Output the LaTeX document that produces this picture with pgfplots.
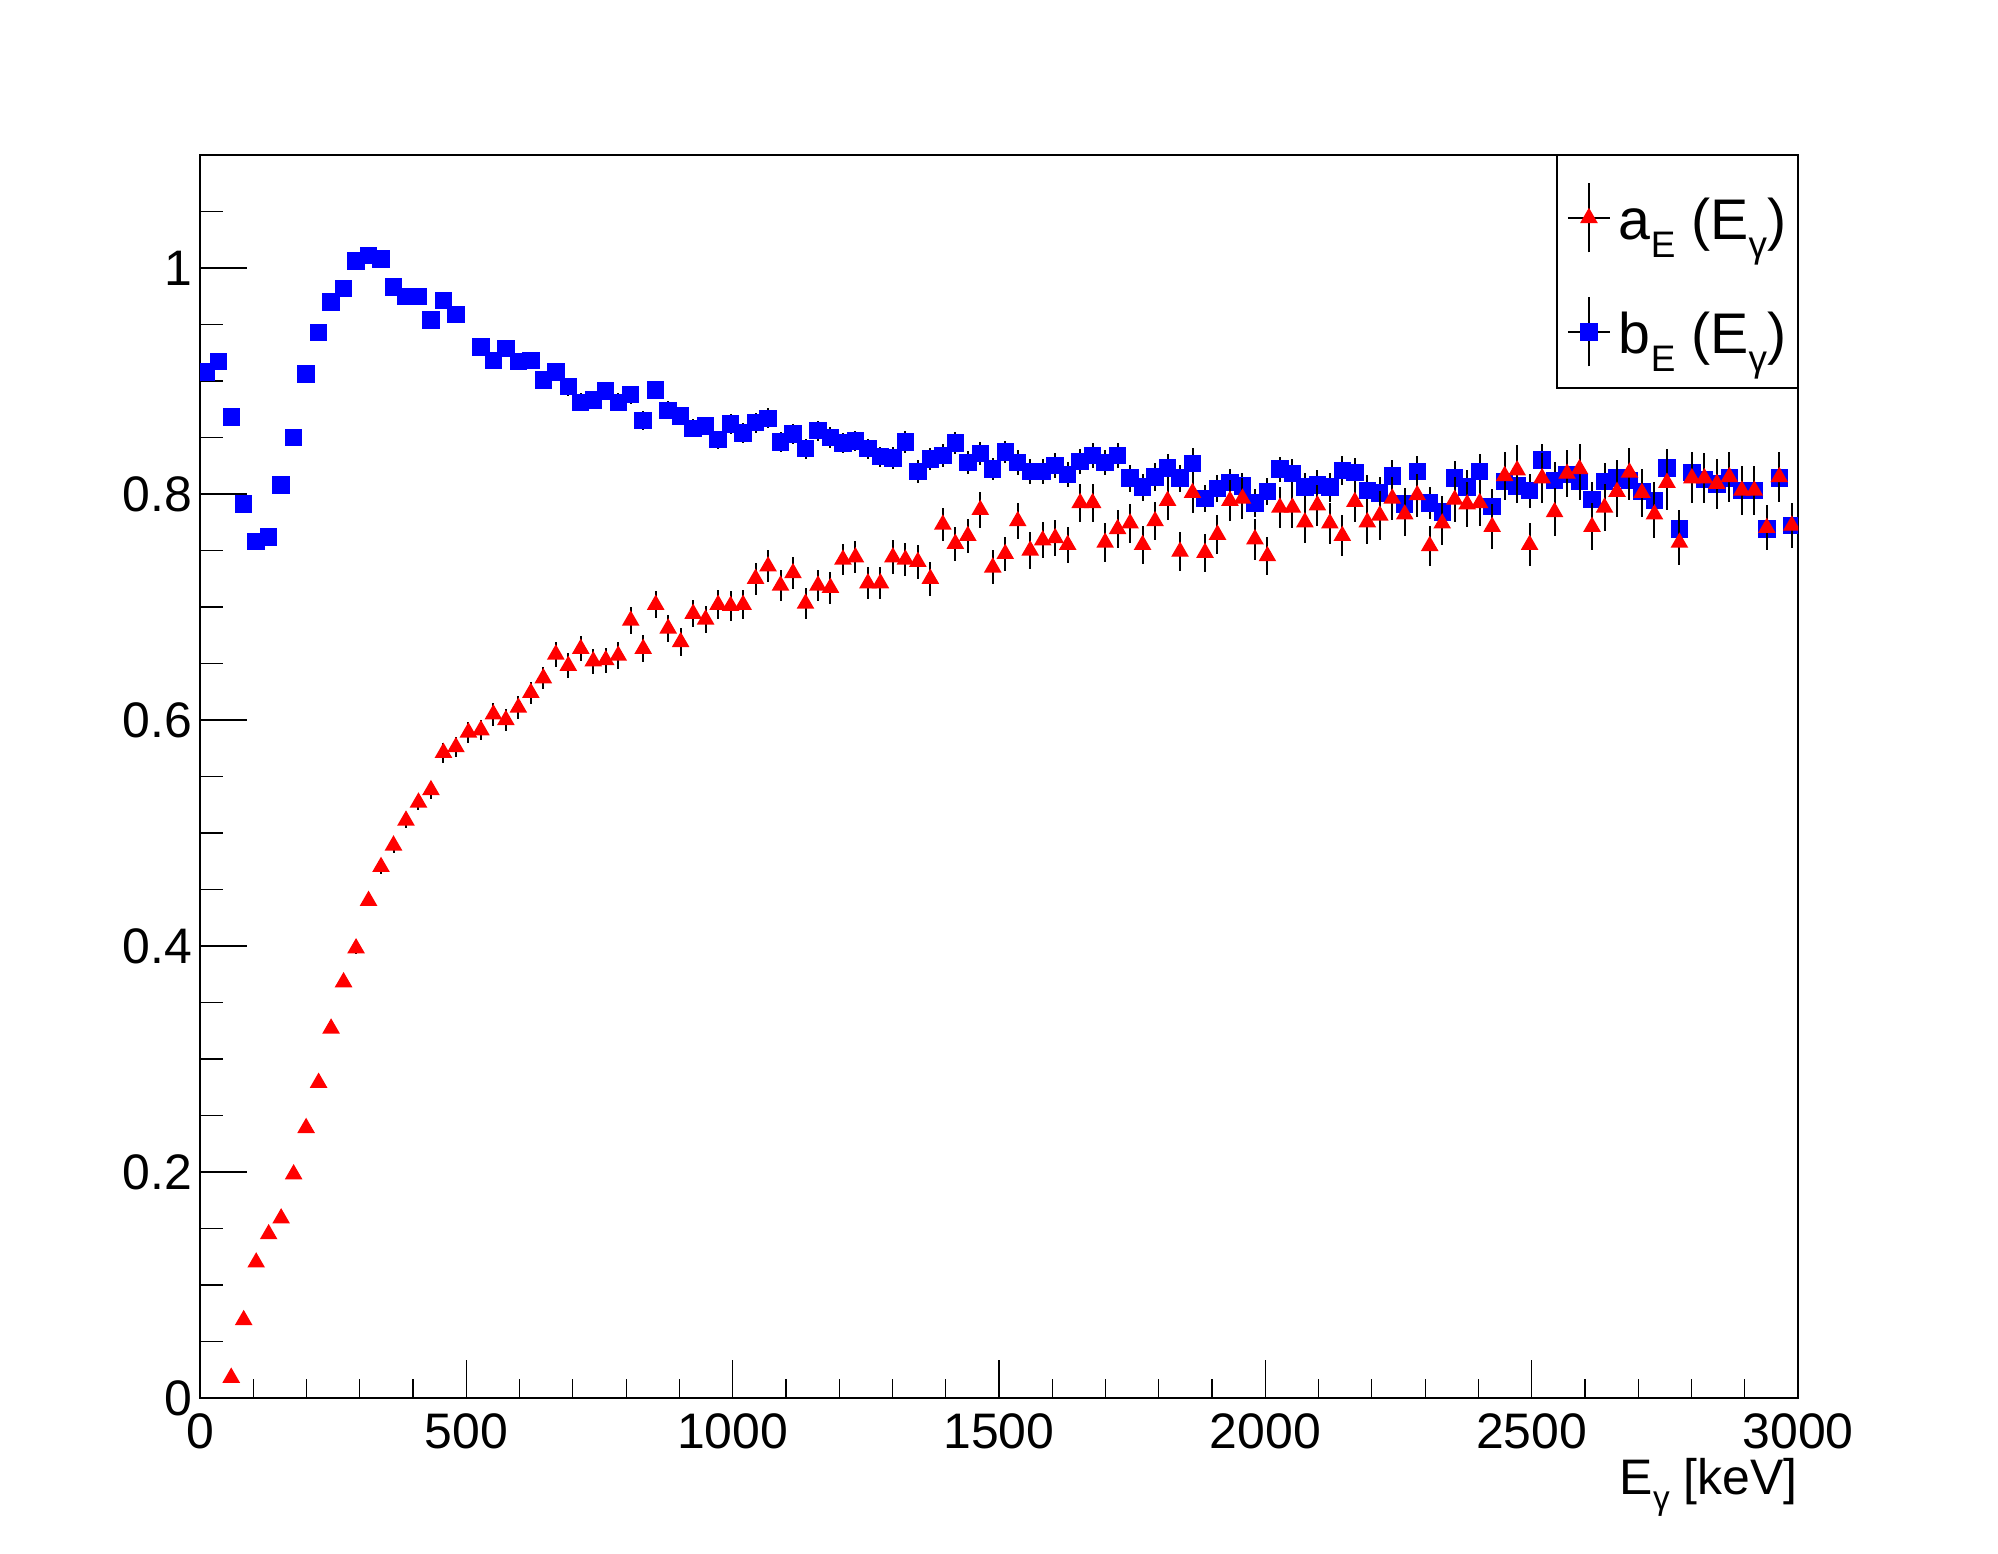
\documentclass[border=0pt]{standalone}
\usepackage{fontspec}
\setmainfont{Liberation Sans}
\usepackage{pgfplots}
\usepackage{pgfplotstable}
\pgfplotsset{compat=1.18}
\newcommand{\lsub}[1]{\raisebox{-0.3em}{\fontsize{10.5}{10.5}\selectfont #1}}
\newcommand{\xsub}[1]{\raisebox{-0.3em}{\fontsize{9.5}{9.5}\selectfont #1}}

\pgfplotstableread{
E v e
11.72 0.908 0.003
35.16 0.917 0.003
58.59 0.868 0.003
82.03 0.791 0.003
105.47 0.758 0.003
128.91 0.762 0.003
152.34 0.808 0.003
175.78 0.850 0.003
199.22 0.906 0.004
222.66 0.943 0.004
246.09 0.970 0.004
269.53 0.982 0.004
292.97 1.006 0.004
316.41 1.011 0.004
339.84 1.008 0.004
363.28 0.983 0.004
386.72 0.975 0.005
410.16 0.975 0.005
433.59 0.954 0.005
457.03 0.971 0.005
480.47 0.959 0.005
527.34 0.930 0.006
550.78 0.918 0.006
574.22 0.929 0.006
597.66 0.917 0.006
621.09 0.918 0.006
644.53 0.901 0.007
667.97 0.908 0.007
691.41 0.895 0.008
714.84 0.881 0.008
738.28 0.883 0.008
761.72 0.891 0.008
785.16 0.881 0.008
808.59 0.888 0.008
832.03 0.865 0.008
855.47 0.892 0.008
878.91 0.874 0.008
902.34 0.869 0.008
925.78 0.858 0.008
949.22 0.860 0.008
972.66 0.848 0.008
996.09 0.862 0.009
1019.53 0.854 0.009
1042.97 0.863 0.009
1066.41 0.867 0.009
1089.84 0.846 0.009
1113.28 0.853 0.009
1136.72 0.840 0.009
1160.16 0.856 0.009
1183.59 0.850 0.009
1207.03 0.845 0.009
1230.47 0.847 0.009
1253.91 0.840 0.009
1277.34 0.833 0.009
1300.78 0.832 0.010
1324.22 0.846 0.010
1347.66 0.820 0.010
1371.09 0.831 0.010
1394.53 0.834 0.010
1417.97 0.845 0.010
1441.41 0.828 0.010
1464.84 0.836 0.010
1488.28 0.822 0.010
1511.72 0.837 0.010
1535.16 0.828 0.011
1558.59 0.820 0.011
1582.03 0.820 0.011
1605.47 0.825 0.011
1628.91 0.817 0.011
1652.34 0.829 0.011
1675.78 0.834 0.011
1699.22 0.828 0.011
1722.66 0.834 0.011
1746.09 0.814 0.012
1769.53 0.806 0.012
1792.97 0.815 0.012
1816.41 0.823 0.012
1839.84 0.814 0.012
1863.28 0.827 0.014
1886.72 0.796 0.012
1910.16 0.805 0.012
1933.59 0.810 0.012
1957.03 0.807 0.012
1980.47 0.792 0.012
2003.91 0.802 0.012
2027.34 0.822 0.011
2050.78 0.818 0.013
2074.22 0.806 0.013
2097.66 0.808 0.013
2121.09 0.806 0.013
2144.53 0.821 0.013
2167.97 0.819 0.013
2191.41 0.803 0.014
2214.84 0.801 0.014
2238.28 0.816 0.014
2261.72 0.791 0.014
2285.16 0.820 0.014
2308.59 0.792 0.014
2332.03 0.784 0.014
2355.47 0.814 0.015
2378.91 0.806 0.015
2402.34 0.820 0.015
2425.78 0.789 0.015
2449.22 0.811 0.015
2472.66 0.807 0.015
2496.09 0.803 0.015
2519.53 0.830 0.014
2542.97 0.812 0.016
2566.41 0.817 0.016
2589.84 0.811 0.016
2613.28 0.795 0.016
2636.72 0.811 0.016
2660.16 0.814 0.016
2683.59 0.812 0.017
2707.03 0.802 0.017
2730.47 0.794 0.017
2753.91 0.823 0.017
2777.34 0.769 0.017
2800.78 0.819 0.018
2824.22 0.813 0.018
2847.66 0.809 0.018
2871.09 0.814 0.018
2894.53 0.803 0.018
2917.97 0.803 0.019
2941.41 0.769 0.019
2964.84 0.814 0.021
2988.28 0.772 0.019
}\bdata

\pgfplotstableread{
E v e
58.59 0.018 0.002
82.03 0.069 0.002
105.47 0.120 0.002
128.91 0.145 0.002
152.34 0.159 0.003
175.78 0.198 0.003
199.22 0.239 0.003
222.66 0.279 0.003
246.09 0.327 0.004
269.53 0.368 0.004
292.97 0.398 0.005
316.41 0.440 0.005
339.84 0.470 0.006
363.28 0.489 0.007
386.72 0.511 0.007
410.16 0.527 0.007
433.59 0.538 0.008
457.03 0.571 0.009
480.47 0.576 0.009
503.91 0.589 0.009
527.34 0.591 0.009
550.78 0.605 0.010
574.22 0.600 0.010
597.66 0.611 0.010
621.09 0.624 0.010
644.53 0.637 0.010
667.97 0.658 0.011
691.41 0.648 0.011
714.84 0.663 0.011
738.28 0.652 0.011
761.72 0.653 0.011
785.16 0.657 0.012
808.59 0.688 0.012
832.03 0.663 0.012
855.47 0.702 0.012
878.91 0.681 0.012
902.34 0.669 0.012
925.78 0.694 0.012
949.22 0.689 0.012
972.66 0.702 0.013
996.09 0.701 0.013
1019.53 0.702 0.013
1042.97 0.725 0.014
1066.41 0.736 0.014
1089.84 0.719 0.014
1113.28 0.730 0.014
1136.72 0.703 0.014
1160.16 0.719 0.014
1183.59 0.717 0.014
1207.03 0.742 0.014
1230.47 0.744 0.014
1253.91 0.721 0.014
1277.34 0.721 0.014
1300.78 0.744 0.015
1324.22 0.742 0.015
1347.66 0.740 0.015
1371.09 0.725 0.015
1394.53 0.773 0.015
1417.97 0.756 0.015
1441.41 0.763 0.015
1464.84 0.786 0.016
1488.28 0.735 0.015
1511.72 0.747 0.015
1535.16 0.776 0.016
1558.59 0.750 0.016
1582.03 0.759 0.016
1605.47 0.761 0.016
1628.91 0.755 0.016
1652.34 0.792 0.017
1675.78 0.792 0.017
1699.22 0.757 0.017
1722.66 0.769 0.017
1746.09 0.774 0.017
1769.53 0.755 0.017
1792.97 0.776 0.017
1816.41 0.794 0.017
1839.84 0.749 0.017
1863.28 0.801 0.018
1886.72 0.748 0.017
1910.16 0.764 0.017
1933.59 0.794 0.018
1957.03 0.796 0.018
1980.47 0.760 0.018
2003.91 0.745 0.017
2027.34 0.788 0.018
2050.78 0.788 0.018
2074.22 0.775 0.018
2097.66 0.790 0.018
2121.09 0.774 0.018
2144.53 0.763 0.018
2167.97 0.793 0.018
2191.41 0.775 0.019
2214.84 0.781 0.022
2238.28 0.796 0.019
2261.72 0.782 0.019
2285.16 0.799 0.019
2308.59 0.754 0.018
2332.03 0.774 0.019
2355.47 0.795 0.020
2378.91 0.791 0.020
2402.34 0.792 0.020
2425.78 0.771 0.020
2449.22 0.816 0.021
2472.66 0.821 0.022
2496.09 0.755 0.019
2519.53 0.814 0.022
2542.97 0.784 0.021
2566.41 0.818 0.021
2589.84 0.822 0.022
2613.28 0.771 0.021
2636.72 0.788 0.021
2660.16 0.802 0.022
2683.59 0.819 0.022
2707.03 0.801 0.021
2730.47 0.782 0.021
2753.91 0.810 0.024
2777.34 0.757 0.020
2800.78 0.814 0.022
2824.22 0.814 0.022
2847.66 0.809 0.022
2871.09 0.815 0.022
2894.53 0.803 0.022
2917.97 0.803 0.022
2941.41 0.770 0.020
2964.84 0.815 0.022
2988.28 0.772 0.020
}\adata

\begin{document}
\begin{tikzpicture}
\path[use as bounding box] (-20mm,-15.6mm) rectangle (179.8mm,139.8mm);
\begin{axis}[
  at={(0,0)}, anchor=south west,
  scale only axis, width=159.8mm, height=124.3mm,
  xmin=0, xmax=3000, ymin=0, ymax=1.1,
  clip marker paths=true,
  tick align=inside, xtick pos=bottom, ytick pos=left,
  xtick={0,500,1000,1500,2000,2500,3000},
  xticklabels={0,500,1000,1500,2000,2500,3000},
  minor xtick={100,200,300,400,600,700,800,900,1100,1200,1300,1400,1600,1700,1800,1900,2100,2200,2300,2400,2600,2700,2800,2900},
  ytick={0,0.2,0.4,0.6,0.8,1},
  yticklabels={0,0.2,0.4,0.6,0.8,1},
  minor ytick={0.05,0.1,0.15,0.25,0.3,0.35,0.45,0.5,0.55,0.65,0.7,0.75,0.85,0.9,0.95,1.05},
  xtick style={/pgfplots/major tick length=3.8mm, /pgfplots/minor tick length=1.9mm},
  ytick style={/pgfplots/major tick length=4.7mm, /pgfplots/minor tick length=2.3mm},
  every tick/.append style={black, line width=0.12mm},
  axis line style={line width=0.12mm},
  ticklabel style={font=\fontsize{14.2}{16}\selectfont, inner sep=0pt},
  xticklabel style={anchor=north, yshift=-1.5mm},
  yticklabel style={anchor=east, xshift=-0.7mm},
  xlabel={E\xsub{γ} [keV]},
  xlabel style={at={(rel axis cs:1,0)}, anchor=base east, yshift=-9.7mm, inner sep=0pt, font=\fontsize{14.2}{16}\selectfont},
  reverse legend, legend cell align=left,
  legend style={draw=none, fill=none, at={(rel axis cs:0.8554,0.9035)}, anchor=west,
    inner sep=0pt, outer sep=0pt, row sep=0pt, column sep=0.8mm,
    font=\fontsize{16.3}{19}\selectfont,
    nodes={inner sep=0pt, text height=7.9mm, text depth=3.5mm}},
]
\addplot[only marks, mark=square*, mark size=0.8mm, color=blue, mark options={draw=blue, fill=blue},
  legend image code/.code={
    \draw[black, line width=0.2mm] (0mm,0mm) -- (4.2mm,0mm);
    \draw[black, line width=0.2mm] (2.1mm,-3.45mm) -- (2.1mm,3.45mm);
    \draw[blue] plot[mark=square*, mark size=0.8mm, mark options={draw=blue, fill=blue}, only marks] coordinates {(2.1mm,0mm)};
  },
  error bars/.cd, y dir=both, y explicit, error mark=none, error bar style={black, line width=0.2mm}]
  table[x=E, y=v, y error=e] {\bdata};
\addlegendentry{b\lsub{E} (E\lsub{γ})}
\addplot[only marks, mark=triangle*, mark size=0.88mm, color=red, mark options={draw=red, fill=red},
  legend image code/.code={
    \draw[black, line width=0.2mm] (0mm,0mm) -- (4.2mm,0mm);
    \draw[black, line width=0.2mm] (2.1mm,-3.45mm) -- (2.1mm,3.45mm);
    \draw[red] plot[mark=triangle*, mark size=0.88mm, mark options={draw=red, fill=red}, only marks] coordinates {(2.1mm,0mm)};
  },
  error bars/.cd, y dir=both, y explicit, error mark=none, error bar style={black, line width=0.2mm}]
  table[x=E, y=v, y error=e] {\adata};
\addlegendentry{a\lsub{E} (E\lsub{γ})}
\end{axis}
\draw[line width=0.12mm] (135.7mm,101mm) rectangle (159.8mm,124.3mm);
\end{tikzpicture}
\end{document}
